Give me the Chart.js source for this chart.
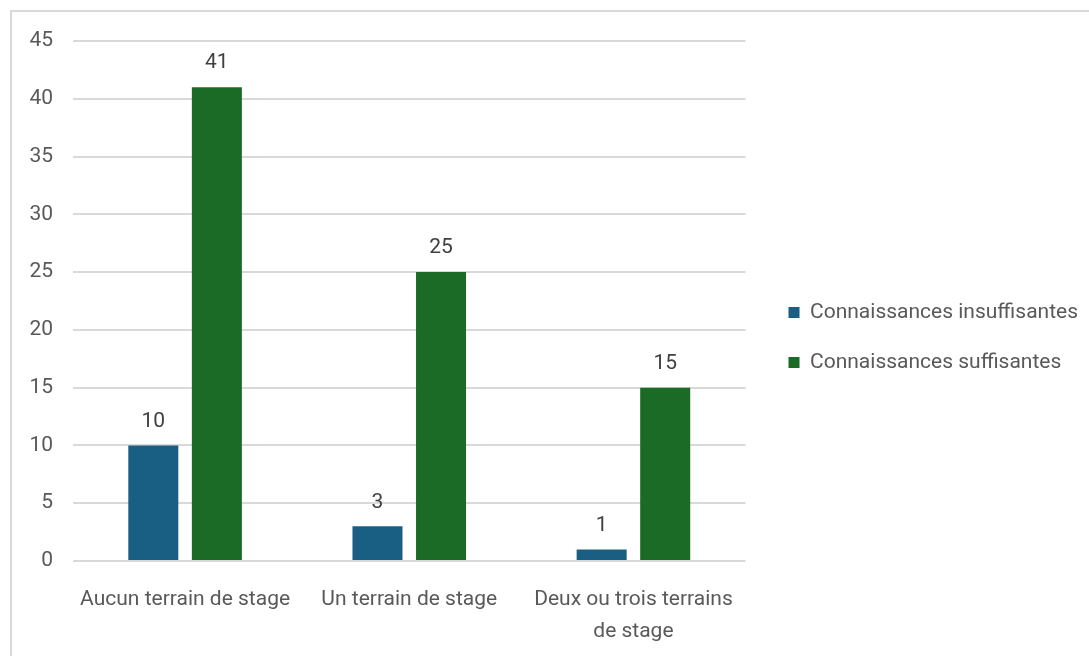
<!DOCTYPE html>
<html>
<head>
<meta charset="utf-8">
<script src="https://cdn.jsdelivr.net/npm/chart.js@4/dist/chart.umd.min.js"></script>
<style>
  body { margin:0; background:#fff; overflow:hidden; font-family: Roboto, sans-serif; }
  #frame { position:absolute; left:10px; top:10px; width:1200px; height:800px; border:2px solid #d9d9d9; box-sizing:border-box; }
  #c { position:absolute; left:0; top:0; }
</style>
</head>
<body>
<div id="frame"></div>
<canvas id="c" width="1089" height="656"></canvas>
<script>
// data
const categories = ['Aucun terrain de stage', 'Un terrain de stage', ['Deux ou trois terrains', 'de stage']];
const insuffisantes = [10, 3, 1];
const suffisantes = [41, 25, 15];
const seriesNames = ['Connaissances insuffisantes', 'Connaissances suffisantes'];
const yTicks = [0, 5, 10, 15, 20, 25, 30, 35, 40, 45];

const FONT = "Roboto, 'Noto Sans', sans-serif";
const SIZE = 21;

// draws the number over each bar
const valueLabels = {
  id: 'valueLabels',
  afterDatasetsDraw(chart) {
    const ctx = chart.ctx;
    ctx.save();
    ctx.font = SIZE + 'px ' + FONT;
    ctx.fillStyle = '#404040';
    ctx.textAlign = 'center';
    ctx.textBaseline = 'middle';
    chart.data.datasets.forEach((ds, i) => {
      chart.getDatasetMeta(i).data.forEach((bar, j) => {
        ctx.fillText(ds.data[j], bar.x, bar.y - 24);
      });
    });
    ctx.restore();
  }
};

// nudge the legend up a bit, like the original
const legendUp = {
  id: 'legendUp',
  afterLayout(chart) {
    chart.legend.top -= 11;
    chart.legend.bottom -= 11;
  }
};

function draw() {
  new Chart(document.getElementById('c'), {
    type: 'bar',
    data: {
      labels: categories,
      datasets: [
        { label: seriesNames[0], data: insuffisantes, backgroundColor: '#195e83' },
        { label: seriesNames[1], data: suffisantes, backgroundColor: '#1b6a25' }
      ]
    },
    options: {
      responsive: false,
      animation: false,
      layout: { padding: { top: 41, left: 27, right: 1, bottom: 0 } },
      categoryPercentage: 0.567,
      barPercentage: 0.787,
      plugins: {
        legend: {
          position: 'right',
          maxWidth: 400,
          labels: {
            font: { family: FONT, size: SIZE },
            color: '#595959',
            boxWidth: 11,
            boxHeight: 11,
            padding: 29
          }
        },
        tooltip: { enabled: false }
      },
      scales: {
        x: {
          grid: { display: false, drawTicks: false },
          border: { display: false },
          ticks: { font: { family: FONT, size: SIZE, lineHeight: 1.52 }, color: '#595959', padding: 23, maxRotation: 0 },
          afterFit(s) { s.height = 95; }
        },
        y: {
          min: 0,
          max: 45,
          afterBuildTicks(axis) { axis.ticks = yTicks.map(v => ({ value: v })); },
          grid: { color: '#d9d9d9', lineWidth: 2, drawTicks: false },
          border: { display: false },
          ticks: { font: { family: FONT, size: SIZE }, color: '#595959', padding: 20 },
          afterFit(s) { s.width = 46; }
        },
        // empty spacer so the legend sits a little away from the plot
        gap: {
          position: 'right',
          display: true,
          grid: { display: false },
          border: { display: false },
          ticks: { display: false },
          afterFit(s) { s.width = 14; }
        }
      }
    },
    plugins: [valueLabels, legendUp]
  });
}

document.fonts.load(SIZE + 'px Roboto').then(draw, draw);
</script>
</body>
</html>
